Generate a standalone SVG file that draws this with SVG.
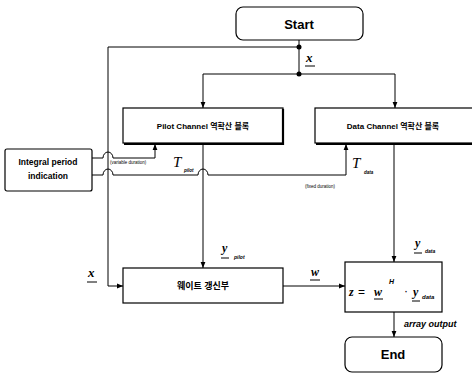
<svg xmlns="http://www.w3.org/2000/svg" width="472" height="380" viewBox="0 0 472 380">
<style>
.box{fill:#fff;stroke:#000;stroke-width:1.2}
.ln{fill:none;stroke:#000;stroke-width:1}
.b{font-family:"Liberation Sans","Noto Sans CJK KR",sans-serif;font-weight:bold;fill:#000}
.v{font-family:"Liberation Serif",serif;font-style:italic;font-weight:bold;fill:#000}
.tt{font-family:"Liberation Serif",serif;font-style:italic;font-weight:normal;fill:#000}
.s{font-family:"Liberation Sans",sans-serif;font-style:italic;font-weight:bold;fill:#000}
.t{font-family:"Liberation Sans",sans-serif;fill:#000}
.u{stroke:#000;stroke-width:1}
</style>
<defs>
<marker id="ar" viewBox="0 0 10 10" refX="10" refY="5" markerWidth="6" markerHeight="6" orient="auto">
<path d="M0,1 L10,5 L0,9 z" fill="#000"/>
</marker>
</defs>
<g id="connectors">
<path class="ln" d="M299,40 V74"/>
<circle cx="299" cy="47" r="2.5"/>
<circle cx="299" cy="74" r="2.5"/>
<path class="ln" d="M299,47 H108 V286 H123" marker-end="url(#ar)"/>
<path class="ln" d="M203,74 H395"/>
<path class="ln" d="M203,74 V108" marker-end="url(#ar)"/>
<path class="ln" d="M395,74 V108" marker-end="url(#ar)"/>
<path class="ln" d="M92,158 H103 A5,6 0 0 1 113,158 H155 V144" marker-end="url(#ar)"/>
<path class="ln" d="M92,175 H103 A5,6 0 0 1 113,175 H198 A5,6 0 0 1 208,175 H346 V144" marker-end="url(#ar)"/>
<path class="ln" d="M203,144 V268" marker-end="url(#ar)"/>
<path class="ln" d="M394,144 V262" marker-end="url(#ar)"/>
<path class="ln" d="M283,286 H345" marker-end="url(#ar)"/>
<path class="ln" d="M394,312 V337" marker-end="url(#ar)"/>
</g>
<g id="start">
<rect class="box" x="236" y="7" width="127" height="33" rx="7"/>
<text class="b" x="299" y="29" font-size="13" text-anchor="middle">Start</text>
</g>
<g id="pilot">
<rect class="box" x="123" y="108" width="160" height="35"/>
<path d="M283,109 V144 H124" fill="none" stroke="#000" stroke-width="2.2"/>
<text class="b" x="203" y="129" font-size="8" text-anchor="middle">Pilot Channel 역확산 블록</text>
</g>
<g id="data">
<rect class="box" x="315" y="108" width="160" height="35"/>
<path d="M316,144 H472" fill="none" stroke="#000" stroke-width="2.2"/>
<text class="b" x="393" y="129" font-size="8" text-anchor="middle">Data Channel 역확산 블록</text>
</g>
<g id="integral">
<rect class="box" x="5" y="149" width="87" height="42" rx="2"/>
<text class="b" x="48" y="165" font-size="8.5" text-anchor="middle">Integral period</text>
<text class="b" x="48" y="179" font-size="8.5" text-anchor="middle">indication</text>
</g>
<g id="weight">
<rect class="box" x="123" y="268" width="160" height="35"/>
<text class="b" x="203" y="289" font-size="9" text-anchor="middle">웨이트 갱신부</text>
</g>
<g id="combine">
<rect class="box" x="345" y="262" width="97" height="50"/>
<text class="v" x="349" y="296" font-size="12">z</text>
<text class="t" x="358" y="296" font-size="12">=</text>
<text class="v" x="374" y="296" font-size="12">w</text>
<line class="u" x1="374" y1="299" x2="383" y2="299"/>
<text class="s" x="389" y="284" font-size="7">H</text>
<text class="t" x="404" y="295" font-size="12">·</text>
<text class="v" x="413" y="296" font-size="12">y</text>
<line class="u" x1="412" y1="301" x2="420" y2="301"/>
<text class="s" x="422" y="299" font-size="6">data</text>
</g>
<g id="end">
<rect class="box" x="345" y="337" width="97" height="35" rx="7"/>
<text class="b" x="393" y="359" font-size="13" text-anchor="middle">End</text>
</g>
<g id="labels">
<text class="v" x="306" y="62" font-size="13">x</text>
<line class="u" x1="305" y1="66" x2="315" y2="66"/>
<text class="v" x="88" y="277" font-size="13">x</text>
<line class="u" x1="87" y1="282" x2="97" y2="282"/>
<text class="t" x="110" y="164" font-size="4.5">(variable duration)</text>
<text class="tt" x="173" y="167" font-size="15">T</text>
<text class="s" x="184" y="172" font-size="4.5">pilot</text>
<text class="tt" x="352" y="168" font-size="15">T</text>
<text class="s" x="364" y="174" font-size="4.5">data</text>
<text class="t" x="305" y="188" font-size="4.5">(fixed duration)</text>
<text class="v" x="222" y="252" font-size="12">y</text>
<line class="u" x1="221" y1="258" x2="229" y2="258"/>
<text class="s" x="234" y="259" font-size="5">pilot</text>
<text class="v" x="415" y="247" font-size="12">y</text>
<line class="u" x1="414" y1="253" x2="422" y2="253"/>
<text class="s" x="425" y="253" font-size="5">data</text>
<text class="v" x="311" y="276" font-size="12">w</text>
<line class="u" x1="310" y1="280" x2="320" y2="280"/>
<text class="s" x="404" y="327" font-size="9">array output</text>
</g>
</svg>
